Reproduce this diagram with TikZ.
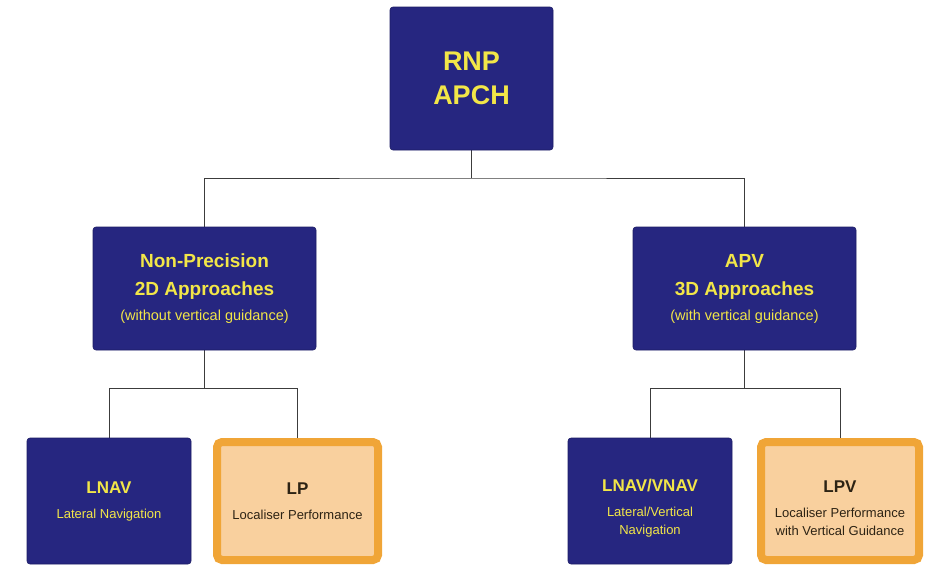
\documentclass[tikz,border=0pt]{standalone}
\usepackage{fontspec}
\setmainfont{Liberation Sans}
\usetikzlibrary{backgrounds}
\definecolor{navyfill}{RGB}{38,38,128}
\definecolor{navyedge}{RGB}{28,28,100}
\definecolor{ytext}{RGB}{242,230,72}
\definecolor{orline}{RGB}{240,165,55}
\definecolor{orfill}{RGB}{249,208,158}
\definecolor{dtext}{RGB}{45,35,20}
\definecolor{linkgray}{RGB}{60,60,60}
\begin{document}
\begin{tikzpicture}[x=1pt,y=-1pt,
  navybox/.style={draw=navyedge, fill=navyfill, rounded corners=3pt, inner sep=0pt, line width=0.6pt},
  orangebox/.style={draw=orline, fill=orfill, line width=8pt, rounded corners=5pt, inner sep=0pt},
  ytxt/.style={text=ytext, align=center, inner sep=0pt},
  dtxt/.style={text=dtext, align=center, inner sep=0pt},
  link/.style={draw=linkgray, line width=0.9pt}]
\useasboundingbox (0,0) rectangle (925,566);

\node[navybox, ytxt, minimum width=163pt, minimum height=143pt, font=\bfseries\fontsize{27}{34}\selectfont] (root) at (471.5,78.5) {RNP\\APCH};

\node[navybox, ytxt, minimum width=223pt, minimum height=123pt, font=\fontsize{19}{28}\selectfont] (npa) at (204.5,288.5)
  {\textbf{Non-Precision}\\\textbf{2D Approaches}\\[-3pt]{\fontsize{14.5}{17}\selectfont (without vertical guidance)}};
\node[navybox, ytxt, minimum width=223pt, minimum height=123pt, font=\fontsize{19}{28}\selectfont] (apv) at (744.5,288.5)
  {\textbf{APV}\\\textbf{3D Approaches}\\[-3pt]{\fontsize{14.5}{17}\selectfont (with vertical guidance)}};

\node[navybox, ytxt, minimum width=164pt, minimum height=126pt, font=\fontsize{13}{18}\selectfont] (lnav) at (109,501)
  {{\fontsize{17}{18}\selectfont\bfseries LNAV}\\[7pt]Lateral Navigation};
\node[orangebox, dtxt, minimum width=161pt, minimum height=118pt, font=\fontsize{13}{18}\selectfont] (lp) at (297.5,501)
  {{\fontsize{17}{18}\selectfont\bfseries LP}\\[7pt]Localiser Performance};
\node[navybox, minimum width=164pt, minimum height=126pt] (lnvn) at (650,501) {};
\node[ytxt, font=\fontsize{13}{18}\selectfont] (lnvnT) at (650,508)
  {{\fontsize{17}{18}\selectfont\bfseries LNAV/VNAV}\\[7pt]Lateral/Vertical\\Navigation};
\node[orangebox, minimum width=158pt, minimum height=118pt] (lpv) at (840,501) {};
\node[dtxt, font=\fontsize{13}{18}\selectfont] (lpvT) at (840,508)
  {{\fontsize{17}{18}\selectfont\bfseries LPV}\\[7pt]Localiser Performance\\with Vertical Guidance};

\coordinate (j0) at (471.5,178);
\coordinate (j1) at (204.5,388);
\coordinate (j2) at (744.5,388);
\begin{pgfonlayer}{background}
\draw[link] (root.south) -- (j0);
\draw[link] (npa.north) |- (j0) -| (apv.north);
\draw[link] (npa.south) -- (j1);
\draw[link] (lnav.north) |- (j1) -| (lp.north);
\draw[link] (apv.south) -- (j2);
\draw[link] (lnvn.north) |- (j2) -| (lpv.north);
\end{pgfonlayer}
\end{tikzpicture}
\end{document}
